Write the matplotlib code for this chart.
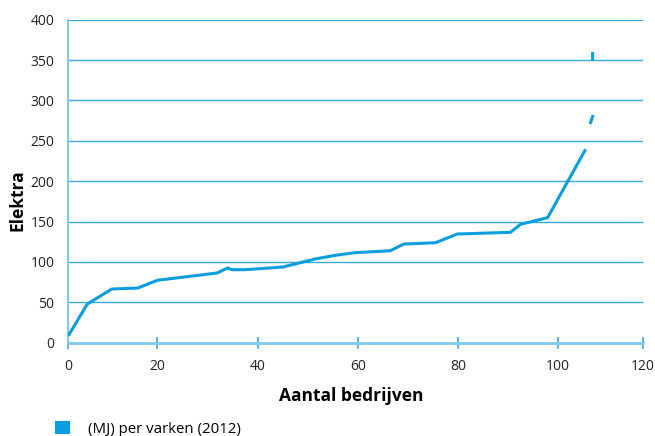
import numpy as np
import matplotlib
matplotlib.use("Agg")
import matplotlib.pyplot as plt
from matplotlib.patches import Patch

plt.rcParams['font.family'] = ['Open Sans', 'DejaVu Sans']

# Data (x on the axis' own linear scale, NaN separates the broken pieces)
x_vals = [2.2, 6.0, 10.9, 16.1, 20.0, 31.9, 34.0, 34.9, 37.5, 45.0, 47.5, 51.5,
          55.5, 59.5, 66.5, 69.2, 75.5, 79.9, 90.5, 92.5, 97.9, 105.5,
          np.nan, 106.4, 107.0, np.nan, 106.9, 106.9]
y_vals = [8.7, 47.9, 66.5, 67.7, 77.3, 86.3, 92.5, 90.4, 90.4, 93.7, 97.5, 103.7,
          108.2, 111.5, 113.9, 122.2, 123.8, 134.6, 136.7, 146.6, 154.8, 239.5,
          np.nan, 270.8, 282.0, np.nan, 350.0, 360.0]
x_ticks = [2.2, 20, 40, 60, 80, 100, 117]
x_ticklabels = ['0', '20', '40', '60', '80', '100', '120']
y_ticks = [0, 50, 100, 150, 200, 250, 300, 350, 400]
series_label = '(MJ) per varken (2012)'
x_label = 'Aantal bedrijven'
y_label = 'Elektra'

line_color = '#0a9ee0'
grid_color = '#3aa9e2'
axis_color = '#7fcbee'

fig = plt.figure(figsize=(6.55, 4.36), dpi=100)
ax = fig.add_axes([0.1043, 0.214, 0.982 - 0.1043, 0.9548 - 0.214])

ax.plot(x_vals, y_vals, color=line_color, lw=2.2, solid_joinstyle='miter',
        solid_capstyle='butt', zorder=3)

ax.set_xlim(2.2, 117)
ax.set_ylim(0, 400)
ax.set_xticks(x_ticks)
ax.set_xticklabels(x_ticklabels)
ax.set_yticks(y_ticks)

for y in y_ticks[1:]:
    ax.axhline(y, color=grid_color, lw=1.0, zorder=1)

for s in ['top', 'right']:
    ax.spines[s].set_visible(False)
ax.spines['left'].set_color(axis_color)
ax.spines['left'].set_linewidth(1.5)
ax.spines['bottom'].set_color(axis_color)
ax.spines['bottom'].set_linewidth(2.0)

ax.tick_params(axis='x', direction='inout', length=9, width=1.2, color=grid_color,
               labelsize=10, labelcolor='#222222', pad=7)
ax.tick_params(axis='y', length=0, labelsize=10, labelcolor='#222222', pad=10)

ax.set_xlabel(x_label, fontsize=12.5, fontweight='bold')
ax.xaxis.set_label_coords(0.492, -0.137)
ax.set_ylabel(y_label, fontsize=12.5, fontweight='bold')
ax.yaxis.set_label_coords(-0.073, 0.44)

handle = Patch(facecolor=line_color, edgecolor='none')
fig.legend([handle], [series_label], loc='lower left', bbox_to_anchor=(0.068, -0.026),
           frameon=False, fontsize=10.8, handlelength=1.0, handleheight=1.0,
           handletextpad=1.2, borderpad=0.2)

fig.savefig('out.png', dpi=100)
